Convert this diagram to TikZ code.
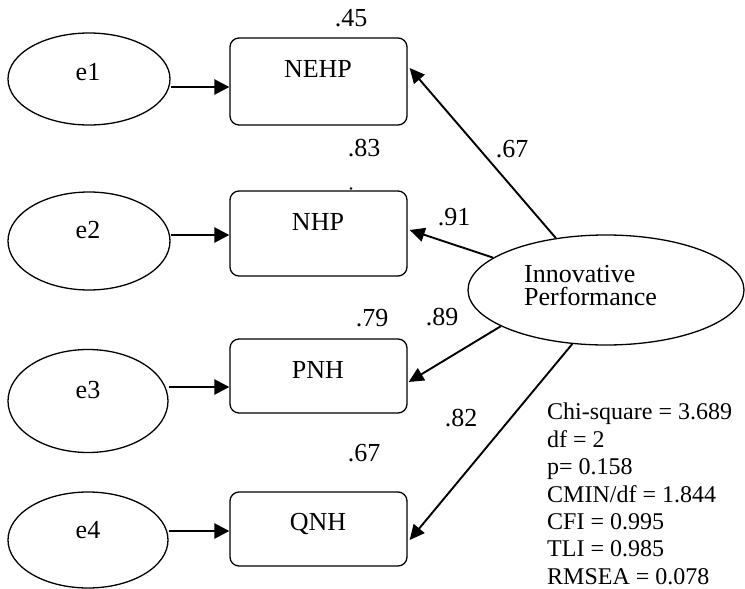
\documentclass[tikz,border=0pt]{standalone}
\usepackage{fontspec}
\setmainfont{Liberation Serif}
\usetikzlibrary{shapes.geometric,arrows.meta}
\begin{document}
\begin{tikzpicture}[x=1pt,y=-1pt,
  err/.style={draw,ellipse,line width=1.3pt,inner sep=0pt},
  obs/.style={draw,rounded corners=9pt,line width=1.3pt,minimum width=177pt,inner sep=0pt},
  lat/.style={draw,ellipse,line width=1.3pt,inner sep=0pt,minimum width=276pt,minimum height=110pt},
  lbl/.style={font=\fontsize{26}{28}\selectfont,inner sep=0pt,align=center},
  stat/.style={font=\fontsize{24}{27.4}\selectfont,inner sep=0pt,align=left},
  earr/.style={-{Triangle[length=15pt,width=15pt]},line width=2.6pt},
  larr/.style={-{Triangle[length=15pt,width=14pt]},line width=1.9pt},
  dotmark/.style={circle,fill,inner sep=0pt,minimum size=2.6pt},
]
\useasboundingbox (0,0) rectangle (745,589);

% error terms
\node[err,minimum width=162pt,minimum height=92pt] (e1) at (89,79) {};
\node[err,minimum width=162pt,minimum height=98pt] (e2) at (89,241) {};
\node[err,minimum width=160pt,minimum height=103pt] (e3) at (88,401) {};
\node[err,minimum width=160pt,minimum height=96pt] (e4) at (88,540) {};
\node[lbl,anchor=base] (te1) at (88,80) {e1};
\node[lbl,anchor=base] (te2) at (88,238) {e2};
\node[lbl,anchor=base] (te3) at (88,398) {e3};
\node[lbl,anchor=base] (te4) at (88,538) {e4};

% observed variables
\node[obs,minimum height=87pt] (b1) at (318.5,81.5) {};
\node[obs,minimum height=85pt] (b2) at (318.5,233.5) {};
\node[obs,minimum height=74pt] (b3) at (318.5,376) {};
\node[obs,minimum height=74pt] (b4) at (318.5,529) {};
\node[lbl,anchor=base] (tb1) at (318,77) {NEHP};
\node[lbl,anchor=base] (tb2) at (318,230) {NHP};
\node[lbl,anchor=base] (tb3) at (318,378) {PNH};
\node[lbl,anchor=base] (tb4) at (318,530) {QNH};

% latent variable
\node[lat] (L) at (606,290) {};
\node[lbl,anchor=base west] (tL1) at (524,282) {Innovative};
\node[lbl,anchor=base west] (tL2) at (524,305) {Performance};

% error arrows
\draw[earr] ([yshift=-8pt]e1.east) -- ([yshift=-5.5pt]b1.west);
\draw[earr] ([yshift=6pt]e2.east) -- ([yshift=-1.5pt]b2.west);
\draw[earr] ([yshift=14pt]e3.east) -- ([yshift=-11pt]b3.west);
\draw[earr] ([yshift=9pt]e4.east) -- ([yshift=-2pt]b4.west);

% loadings
\draw[larr] (L.134) -- ([xshift=2pt,yshift=13.5pt]b1.east);
\draw[larr] (L.164) -- ([xshift=2pt,yshift=3.5pt]b2.east);
\draw[larr] (L.199) -- ([xshift=1pt,yshift=-6pt]b3.east);
\draw[larr] (L.238) -- ([xshift=2pt,yshift=-11pt]b4.east);

% numbers
\node[lbl] (r1) at (351,18) {.45};
\node[lbl] (r2) at (364,148) {.83};
\node[lbl] (r3) at (372,318) {.79};
\node[lbl] (r4) at (364,453) {.67};
\node[lbl] (l1) at (512,149) {.67};
\node[lbl] (l2) at (454,217) {.91};
\node[lbl] (l3) at (442,317) {.89};
\node[lbl] (l4) at (461,418) {.82};
\node[dotmark] (dm) at (351,188.5) {};

% fit statistics
\node[stat,anchor=north west] (fit) at (547,403) {Chi-square = 3.689\\df = 2\\p= 0.158\\CMIN/df = 1.844\\CFI = 0.995\\TLI = 0.985\\RMSEA = 0.078};
\end{tikzpicture}
\end{document}
